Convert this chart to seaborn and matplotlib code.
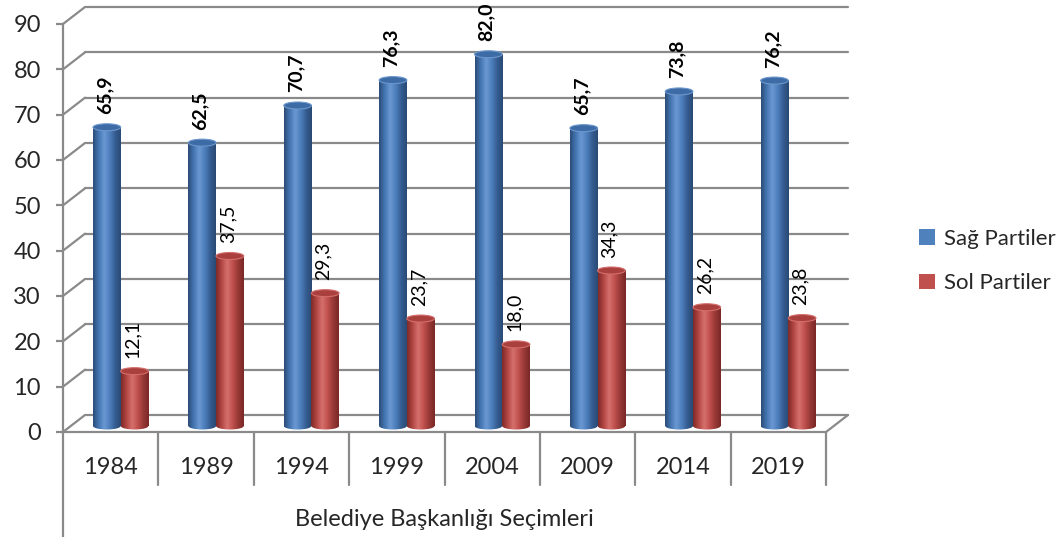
import numpy as np
import pandas as pd
import matplotlib.pyplot as plt
import matplotlib.transforms as mtransforms
from matplotlib.colors import LinearSegmentedColormap
from matplotlib.patches import Ellipse, Patch
import seaborn as sns

years = ["1984", "1989", "1994", "1999", "2004", "2009", "2014", "2019"]
sag = [65.9, 62.5, 70.7, 76.3, 82.0, 65.7, 73.8, 76.2]
sol = [12.1, 37.5, 29.3, 23.7, 18.0, 34.3, 26.2, 23.8]
series = ["Sağ Partiler", "Sol Partiler"]
colors = ["#4F81BD", "#C0504D"]
yticks = list(range(0, 91, 10))
xlabel = "Belediye Başkanlığı Seçimleri"

df = pd.DataFrame({
    "Yıl": years * 2,
    "Seri": [series[0]] * len(years) + [series[1]] * len(years),
    "Değer": sag + sol,
})

sns.set_theme(style="white")
plt.rcParams["font.family"] = ["Lato", "DejaVu Sans"]

W, H, DPI = 1059, 537, 100
L, R, B, T = 63, 826, 432, 24
GRID = "#8a8a8a"

fig = plt.figure(figsize=(W / DPI, H / DPI), dpi=DPI)
fig.patch.set_facecolor("white")
ax = fig.add_axes([L / W, 1 - B / H, (R - L) / W, (B - T) / H])

sns.barplot(data=df, x="Yıl", y="Değer", hue="Seri", order=years, hue_order=series,
            palette=colors, width=0.58, saturation=1, legend=False, ax=ax, zorder=3)

n = len(years)
ax.set_xlim(-0.5, n - 0.5)
ax.set_ylim(0, 90)

# pixel -> data scale for the 3d offsets
px_x = (R - L) / n
px_y = (B - T) / 90.0
back_dx, back_dy = 22 / px_x, 17 / px_y

def shifted(dx, dy):
    return ax.transData + mtransforms.ScaledTranslation(dx / DPI, dy / DPI, fig.dpi_scale_trans)

mid = shifted(10, 6)

# back wall + side wall
for y in yticks:
    ax.plot([-0.5 + back_dx, n - 0.5 + back_dx], [y + back_dy] * 2, color=GRID, lw=1.6,
            clip_on=False, zorder=1)
    ax.plot([-0.5, -0.5 + back_dx], [y, y + back_dy], color=GRID, lw=1.6, clip_on=False, zorder=1)
ax.plot([n - 0.5, n - 0.5 + back_dx], [0, back_dy], color=GRID, lw=1.6, clip_on=False, zorder=1)

# cylinder shading
shade = {
    0: LinearSegmentedColormap.from_list("b", ["#2b4c78", "#4576b3", "#6a98d2", "#4d7fbd", "#355d92", "#2a4a74"]),
    1: LinearSegmentedColormap.from_list("r", ["#7e2a28", "#b44744", "#d5716e", "#c0504d", "#973936", "#7a2826"]),
}
tops = {0: ("#3d6ba6", "#6d97cc"), 1: ("#a9403d", "#d36e6b")}
grad = np.linspace(0, 1, 64)[None, :]
ell_h = 7 / px_y

for i, cont in enumerate(ax.containers):
    for p, v in zip(cont.patches, [sag, sol][i]):
        x0, w, h = p.get_x(), p.get_width(), p.get_height()
        cx = x0 + w / 2
        p.set_visible(False)
        im = ax.imshow(grad, cmap=shade[i], extent=[x0, x0 + w, 0, h], aspect="auto",
                       transform=mid, zorder=3, interpolation="bicubic")
        base = Ellipse((cx, 0), w, ell_h, transform=mid)
        im2 = ax.imshow(grad, cmap=shade[i], extent=[x0, x0 + w, -ell_h / 2, 0], aspect="auto",
                        transform=mid, zorder=3, interpolation="bicubic")
        im2.set_clip_path(base)
        ax.add_patch(Ellipse((cx, h), w, ell_h, transform=mid, facecolor=tops[i][0],
                             edgecolor=tops[i][1], lw=0.8, zorder=4))
        lab = f"{v:.1f}".replace(".", ",")
        ax.annotate(lab, xy=(cx, h), xycoords=mid, xytext=(-2, 13), textcoords="offset pixels",
                    rotation=90, ha="center", va="bottom", fontsize=14,
                    fontweight="bold" if i == 0 else "normal", color="black")

ax.set_xlim(-0.5, n - 0.5)
ax.set_ylim(0, 90)

# axes styling
for s in ["top", "right"]:
    ax.spines[s].set_visible(False)
for s in ["left", "bottom"]:
    ax.spines[s].set_color(GRID)
    ax.spines[s].set_linewidth(1.6)
ax.set_yticks(yticks)
ax.set_yticklabels([str(t) for t in yticks], fontsize=17)
ax.tick_params(axis="y", length=5, width=1.6, color=GRID, pad=11, left=True)
ax.set_xticks([])
ax.set_xlabel("")
ax.set_ylabel("")

# category box below the axis
for k in range(n + 1):
    bottom = -(537 - B) / (B - T) if k == 0 else -53 / (B - T)
    ax.plot([k - 0.5, k - 0.5], [0, bottom], transform=ax.get_xaxis_transform(),
            color=GRID, lw=1.6, clip_on=False)
for k, yr in enumerate(years):
    ax.text(k, -35 / (B - T), yr, transform=ax.get_xaxis_transform(), ha="center",
            va="center", fontsize=17)
ax.text(0.5, -(520 - B) / (B - T), xlabel, transform=ax.transAxes, ha="center",
        va="center", fontsize=17)

handles = [Patch(facecolor=c, edgecolor="none") for c in colors]
fig.legend(handles, series, loc="center left", bbox_to_anchor=(908 / W, 1 - 261 / H),
           frameon=False, fontsize=16, handlelength=0.7, handleheight=0.7,
           handletextpad=0.4, labelspacing=1.1, borderpad=0)

fig.savefig("out.png", dpi=DPI, facecolor="white")
